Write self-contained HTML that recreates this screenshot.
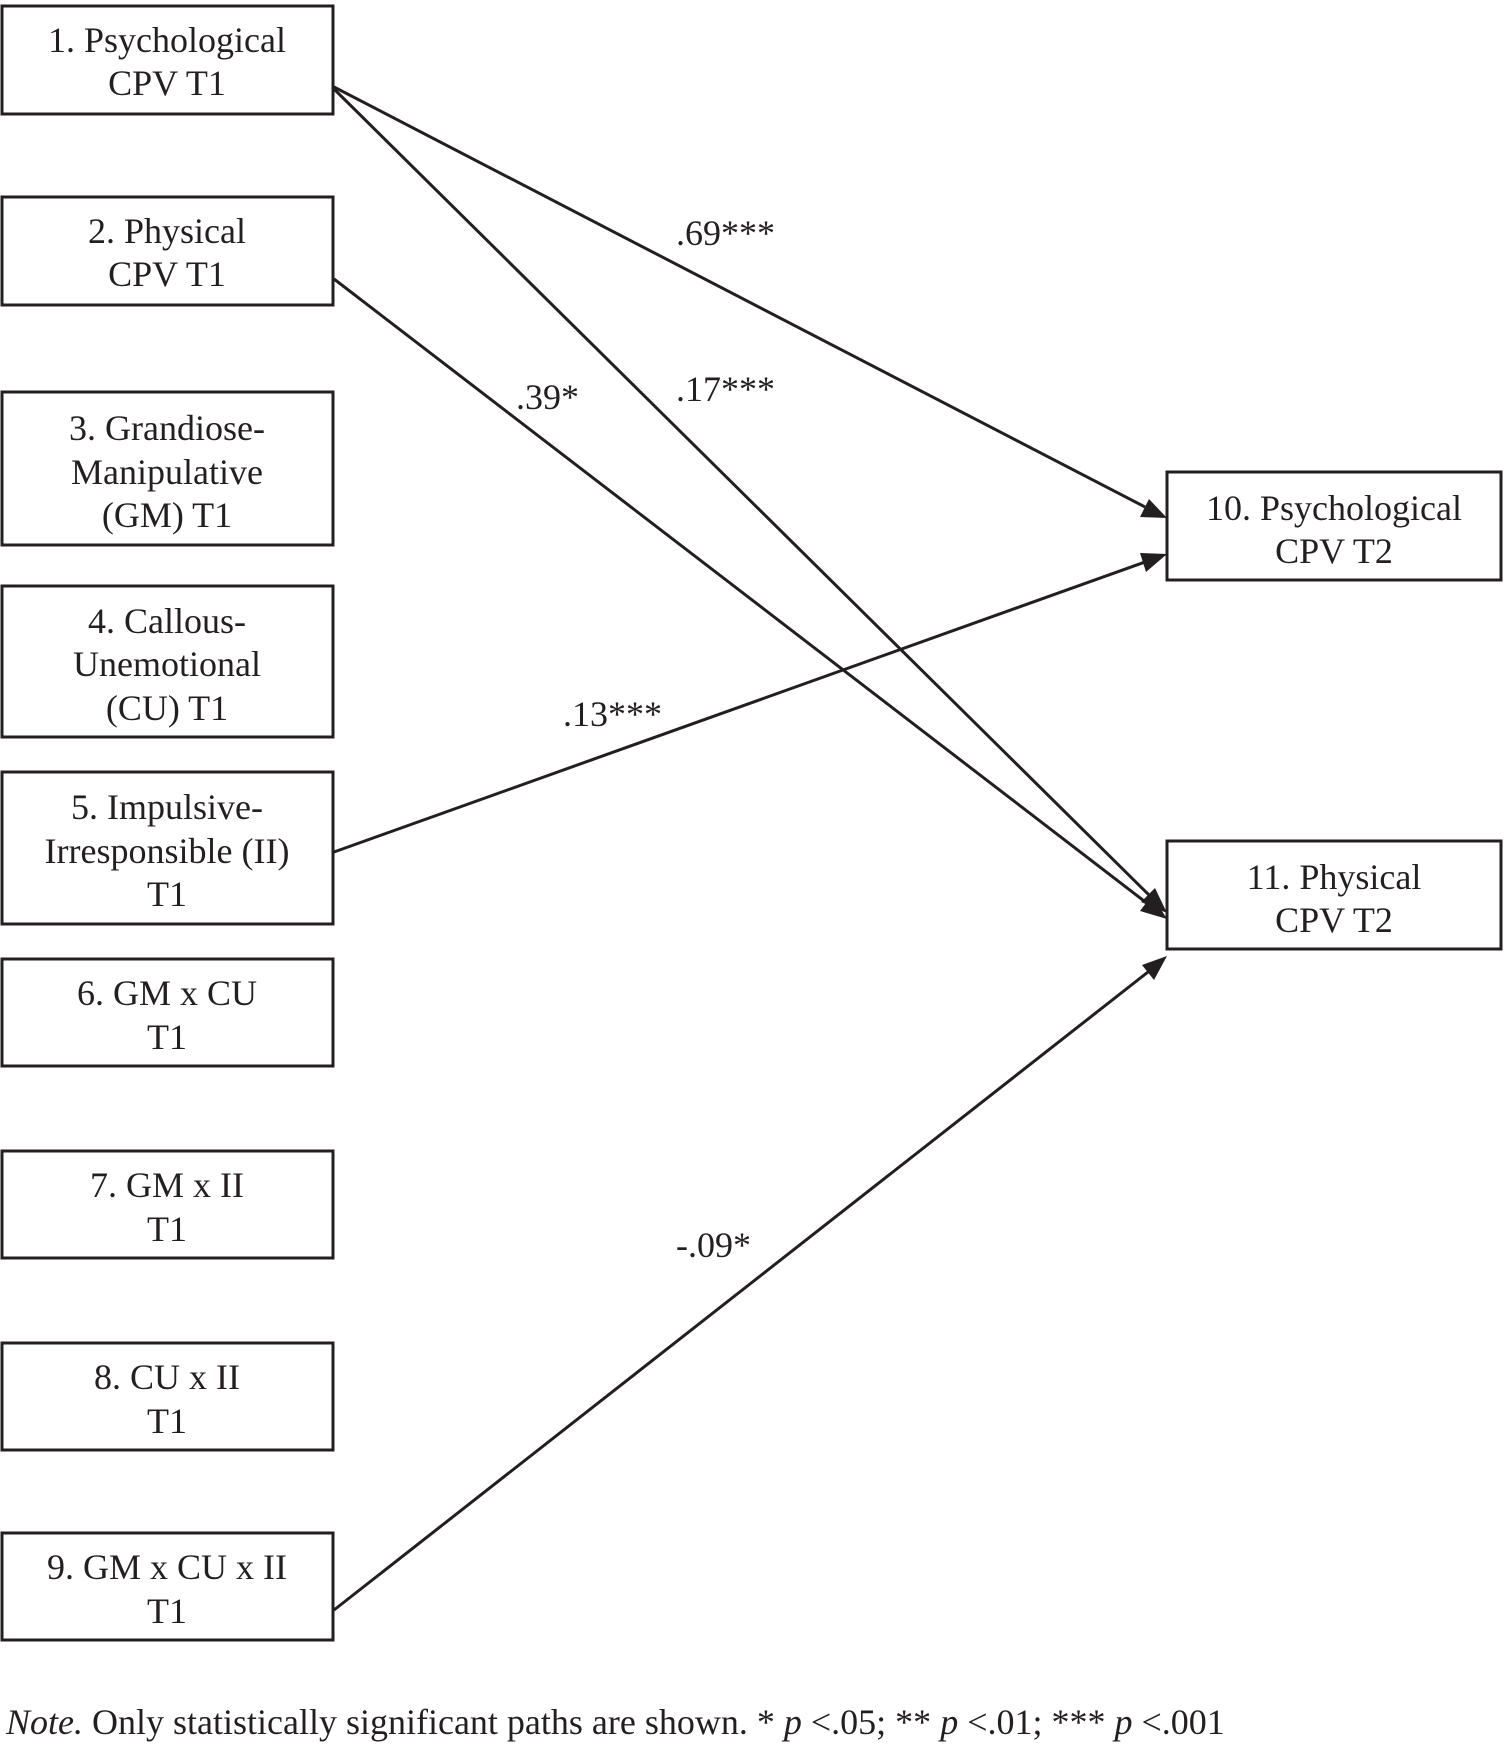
<!DOCTYPE html>
<html><head><meta charset="utf-8"><style>
body{margin:0;background:#fff}
svg{display:block}
text{font-family:"Liberation Serif",serif;font-size:36px;fill:#231f20}
</style></head><body>
<svg width="1504" height="1748" viewBox="0 0 1504 1748" xmlns="http://www.w3.org/2000/svg">
<defs><marker id="a" viewBox="0 0 10 10" refX="10" refY="5" markerWidth="8" markerHeight="6" markerUnits="userSpaceOnUse" orient="auto" style="overflow:visible"><path d="M0,0L10,5L0,10z" fill="#231f20" transform="scale(2.2)" /></marker></defs>
<g fill="none" stroke="#231f20" stroke-width="3">
<rect x="2" y="6" width="331" height="108"/>
<rect x="2" y="197" width="331" height="108"/>
<rect x="2" y="392" width="331" height="153"/>
<rect x="2" y="586" width="331" height="151"/>
<rect x="2" y="772" width="331" height="152"/>
<rect x="2" y="959" width="331" height="107"/>
<rect x="2" y="1151" width="331" height="107"/>
<rect x="2" y="1343" width="331" height="107"/>
<rect x="2" y="1533" width="331" height="107"/>
<rect x="1167" y="472" width="334" height="108"/>
<rect x="1167" y="841" width="334" height="108"/>
</g>
<g stroke="#231f20" stroke-width="3">
<line x1="334" y1="87" x2="1145" y2="507"/>
<line x1="334" y1="89" x2="1150" y2="896"/>
<line x1="334" y1="279" x2="1148" y2="904"/>
<line x1="334" y1="852" x2="1145" y2="562"/>
<line x1="334" y1="1610" x2="1148" y2="972"/>
</g>
<g fill="#231f20">
<polygon points="1167,518 1140,517 1149,499"/>
<polygon points="1167,913 1141,902 1155,888"/>
<polygon points="1167,919 1140,911 1152,895"/>
<polygon points="1167,554 1146,572 1140,553"/>
<polygon points="1167,956 1154,980 1142,965"/>
</g>
<g text-anchor="middle">
<text x="167" y="52">1. Psychological</text><text x="167" y="95">CPV T1</text>
<text x="167" y="243">2. Physical</text><text x="167" y="286">CPV T1</text>
<text x="167" y="440">3. Grandiose-</text><text x="167" y="484">Manipulative</text><text x="167" y="527">(GM) T1</text>
<text x="167" y="633">4. Callous-</text><text x="167" y="676">Unemotional</text><text x="167" y="720">(CU) T1</text>
<text x="167" y="819">5. Impulsive-</text><text x="167" y="863">Irresponsible (II)</text><text x="167" y="906">T1</text>
<text x="167" y="1005">6. GM x CU</text><text x="167" y="1049">T1</text>
<text x="167" y="1197">7. GM x II</text><text x="167" y="1241">T1</text>
<text x="167" y="1389">8. CU x II</text><text x="167" y="1433">T1</text>
<text x="167" y="1579">9. GM x CU x II</text><text x="167" y="1623">T1</text>
<text x="1334" y="520">10. Psychological</text><text x="1334" y="563">CPV T2</text>
<text x="1334" y="889">11. Physical</text><text x="1334" y="932">CPV T2</text>
</g>
<text x="676" y="245">.69***</text>
<text x="676" y="401">.17***</text>
<text x="516" y="409">.39*</text>
<text x="563" y="726">.13***</text>
<text x="676" y="1257">-.09*</text>
<text x="6" y="1734"><tspan font-style="italic">Note.</tspan> Only statistically significant paths are shown. * <tspan font-style="italic">p</tspan> &lt;.05; ** <tspan font-style="italic">p</tspan> &lt;.01; *** <tspan font-style="italic">p</tspan> &lt;.001</text>
</svg>
</body></html>
